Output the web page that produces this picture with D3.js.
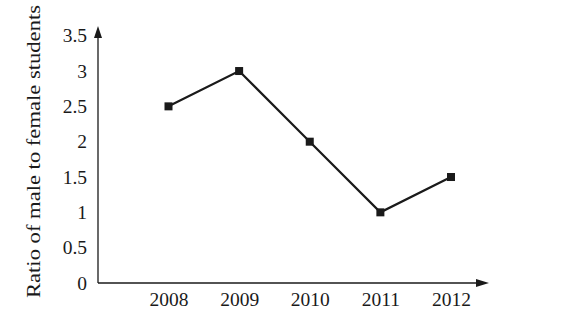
<!DOCTYPE html>
<html>
<head>
<meta charset="utf-8">
<script src="https://cdn.jsdelivr.net/npm/d3@7"></script>
</head>
<body style="margin:0;background:#fff">
<div id="fig"></div>
<script>
const years = ["2008", "2009", "2010", "2011", "2012"];
const ratios = [2.5, 3, 2, 1, 1.5];
const yTicks = [0, 0.5, 1, 1.5, 2, 2.5, 3, 3.5];
const yTitle = "Ratio of male to female students";

const svg = d3.select("#fig").append("svg").attr("width", 563).attr("height", 330);
const ink = "#1a1a1a";
const FONT = '"Liberation Serif"';

const x = d3.scalePoint().domain(years).range([168.5, 451]);
const y = d3.scaleLinear().domain([0, 3.5]).range([283, 35.7]);

const x0 = 98, y0 = 283;

// axes lines
svg.append("line").attr("x1", x0).attr("y1", y0).attr("x2", x0).attr("y2", 34)
  .attr("stroke", ink).attr("stroke-width", 1.3);
svg.append("path").attr("d", `M${x0},26 L${x0-4},38 L${x0+4},38 Z`).attr("fill", ink);
svg.append("line").attr("x1", x0).attr("y1", y0).attr("x2", 480).attr("y2", y0)
  .attr("stroke", ink).attr("stroke-width", 1.3);
svg.append("path").attr("d", `M489,${y0} L476,${y0-4} L476,${y0+4} Z`).attr("fill", ink);

// y axis tick labels
const yAxis = d3.axisLeft(y).tickValues(yTicks).tickSize(0).tickPadding(11)
  .tickFormat(d => String(d));
const gy = svg.append("g").attr("transform", `translate(${x0},0)`).call(yAxis);
gy.select(".domain").remove();
gy.attr("font-family", FONT).attr("font-size", 19.5);
gy.selectAll("text").style("font-family", FONT).style("font-size", "19.5px").attr("fill", ink);

// x axis labels
const xAxis = d3.axisBottom(x).tickSize(0).tickPadding(9);
const gx = svg.append("g").attr("transform", `translate(0,${y0})`).call(xAxis);
gx.select(".domain").remove();
gx.attr("font-family", FONT).attr("font-size", 19.5);
gx.selectAll("text").style("font-family", FONT).style("font-size", "19.5px").attr("fill", ink);

// y title
svg.append("text")
  .attr("transform", `translate(40,${(298 + 5) / 2}) rotate(-90)`)
  .attr("text-anchor", "middle")
  .style("font-family", FONT)
  .style("font-size", "19.5px")
  .attr("fill", ink)
  .attr("textLength", 293)
  .attr("lengthAdjust", "spacingAndGlyphs")
  .text(yTitle);

// line
const data = years.map((yr, i) => ({ yr, v: ratios[i] }));
svg.append("path").datum(data)
  .attr("fill", "none").attr("stroke", ink).attr("stroke-width", 2.2)
  .attr("d", d3.line().x(d => x(d.yr)).y(d => y(d.v)));

svg.selectAll("rect.m").data(data).enter().append("rect")
  .attr("class", "m")
  .attr("x", d => x(d.yr) - 4).attr("y", d => y(d.v) - 4)
  .attr("width", 8).attr("height", 8).attr("fill", ink);
</script>
</body>
</html>
